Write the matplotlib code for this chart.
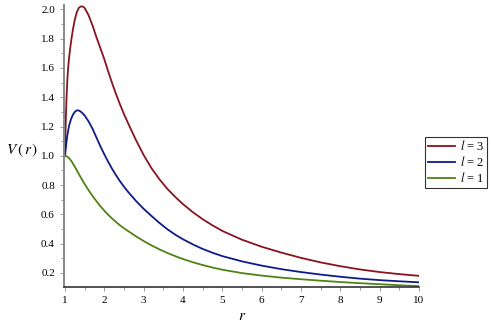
import matplotlib
matplotlib.use("Agg")
import matplotlib.pyplot as plt
from matplotlib.ticker import MultipleLocator

# values
r = [1.0, 1.02, 1.04, 1.06, 1.08, 1.1, 1.13, 1.16, 1.2, 1.25,
     1.3, 1.35, 1.4, 1.45, 1.5,
     1.6, 1.7, 1.8, 1.9, 2.0,
     2.1, 2.2, 2.3, 2.4, 2.5, 2.6,
     2.8, 3.0, 3.2, 3.4, 3.6, 3.8, 4.0,
     4.25, 4.5, 4.75, 5.0,
     5.5, 6.0, 6.5, 7.0, 7.5, 8.0, 8.5, 9.0, 9.5, 10.0]
v_l3 = [1.0, 1.24, 1.40, 1.52, 1.60, 1.66, 1.73, 1.79, 1.86, 1.93,
        1.98, 2.01, 2.02, 2.02, 2.01,
        1.96, 1.89, 1.81, 1.735, 1.66,
        1.575, 1.495, 1.42, 1.35, 1.285, 1.225,
        1.11, 1.005, 0.915, 0.84, 0.775, 0.72, 0.67,
        0.615, 0.567, 0.525, 0.487,
        0.427, 0.379, 0.339, 0.303, 0.272, 0.246, 0.224, 0.206, 0.192, 0.18]
v_l2 = [1.0, 1.05, 1.10, 1.14, 1.17, 1.20, 1.23, 1.255, 1.28, 1.30,
        1.31, 1.31, 1.302, 1.29, 1.275,
        1.235, 1.185, 1.125, 1.065, 1.01,
        0.958, 0.91, 0.866, 0.826, 0.789, 0.755,
        0.693, 0.638, 0.589, 0.542, 0.499, 0.462, 0.43,
        0.395, 0.364, 0.338, 0.315,
        0.279, 0.25, 0.226, 0.206, 0.189, 0.174, 0.161, 0.151, 0.143, 0.136]
v_l1 = [1.0, 0.999, 0.997, 0.994, 0.99, 0.985, 0.976, 0.965, 0.948, 0.925,
        0.901, 0.877, 0.853, 0.83, 0.807,
        0.765, 0.726, 0.69, 0.656, 0.625,
        0.597, 0.571, 0.547, 0.525, 0.505, 0.487,
        0.451, 0.418, 0.388, 0.361, 0.337, 0.315, 0.295,
        0.273, 0.254, 0.237, 0.222,
        0.199, 0.182, 0.168, 0.157, 0.147, 0.138, 0.13, 0.123, 0.116, 0.11]

series = [("$l$ = 3", v_l3, "#88141F"),
          ("$l$ = 2", v_l2, "#0E1C88"),
          ("$l$ = 1", v_l1, "#4E8414")]

plt.rcParams["font.family"] = ["Liberation Serif", "DejaVu Serif"]
plt.rcParams["mathtext.fontset"] = "stix"

fig = plt.figure(figsize=(4.91, 3.27), dpi=100)
ax = fig.add_axes([64 / 491, 40 / 327, (419 - 64) / 491, (287 - 5) / 327])

for label, v, color in series:
    ax.plot(r, v, color=color, lw=1.3, label=label, solid_joinstyle="round")

ax.set_xlim(0.975, 10)
ax.set_ylim(0.104, 2.03)
ax.xaxis.set_major_locator(MultipleLocator(1))
ax.xaxis.set_minor_locator(MultipleLocator(0.5))
ax.yaxis.set_minor_locator(MultipleLocator(0.1))
ax.set_yticks([0.2, 0.4, 0.6, 0.8, 1.0, 1.2, 1.4, 1.6, 1.8, 2.0])
ax.tick_params(which="both", labelsize=8, colors="#888888", labelcolor="black",
               width=0.6)
ax.tick_params(which="major", length=3)
ax.tick_params(which="minor", length=2)

for side in ("top", "right"):
    ax.spines[side].set_visible(False)
ax.spines["left"].set_color("#888888")
ax.spines["left"].set_linewidth(1.4)
ax.spines["bottom"].set_color("#333333")
ax.spines["bottom"].set_linewidth(1.2)

fig.text(22 / 491, 1 - 150 / 327, r"$V\,(\,r\,)$", fontsize=11,
         ha="center", va="center")
fig.text(242 / 491, 1 - 316 / 327, r"$r$", fontsize=11,
         ha="center", va="center")

leg = ax.legend(loc="upper left", bbox_to_anchor=(425 / 491, 1 - 137 / 327),
                bbox_transform=fig.transFigure, fontsize=9, frameon=True,
                fancybox=False, borderpad=0.2, handlelength=2.2,
                handletextpad=0.4, labelspacing=0.15, borderaxespad=0)
leg.get_frame().set_edgecolor("black")
leg.get_frame().set_linewidth(0.8)

fig.savefig("out.png", dpi=100)
